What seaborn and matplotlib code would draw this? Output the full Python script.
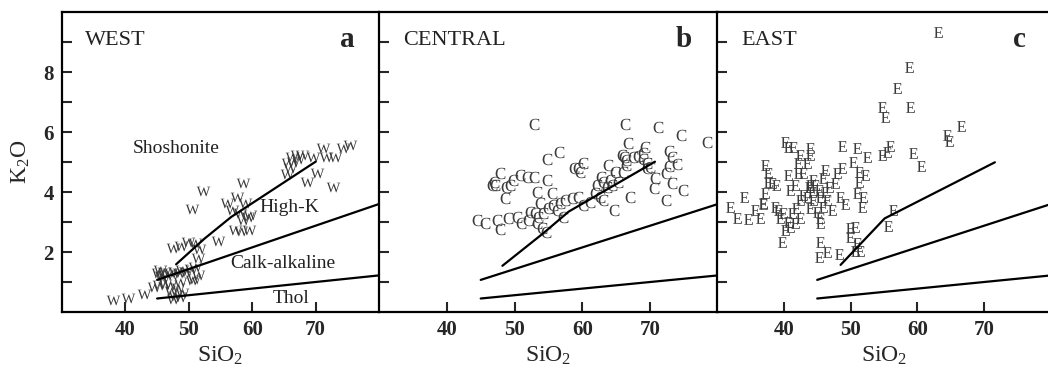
import matplotlib
matplotlib.use("Agg")
import matplotlib.pyplot as plt
import seaborn as sns

# --- data (SiO2 vs K2O, wt%) ---
west_sio2 = [38.0, 40.4, 42.9, 44.5, 45.3, 46.2, 47.0, 47.2, 47.8, 48.3, 48.6, 47.5, 48.9,
             48.6, 50.5, 45.2, 45.6, 46.1, 46.6, 47.2, 47.8, 48.4, 49.0, 49.6, 50.3, 51.0,
             51.5, 50.8, 45.5, 46.0, 51.5, 47.5, 48.8, 49.8, 51.0, 51.6, 54.6, 50.5, 52.3,
             56.0, 57.6, 58.9, 56.8, 58.1, 59.3, 58.5, 59.7, 58.5, 57.3, 58.3, 59.5,
             65.7, 66.2, 67.0, 67.8, 66.0, 66.5, 65.5, 67.2, 69.6, 71.2, 71.7, 73.1, 74.4,
             75.4, 68.6, 70.2, 72.8]
west_k2o = [0.40, 0.47, 0.60, 0.85, 0.90, 0.95, 0.90, 0.70, 0.55, 0.80, 0.50, 0.45, 0.65,
            1.00, 1.07, 1.30, 1.20, 1.35, 1.25, 1.30, 1.35, 1.30, 1.40, 1.35, 1.45, 1.50,
            1.25, 1.10, 1.40, 1.15, 1.80, 2.15, 2.20, 2.35, 2.30, 2.10, 2.37, 3.43, 4.03,
            3.63, 3.83, 3.63, 3.40, 3.30, 3.17, 3.07, 3.23, 4.30, 2.75, 2.70, 2.75,
            4.96, 5.18, 5.23, 5.23, 4.79, 5.00, 4.60, 5.10, 5.18, 5.46, 5.18, 5.18, 5.46,
            5.57, 4.34, 4.62, 4.18]

central_sio2 = [52.9, 66.3, 71.2, 74.6, 78.4, 66.7, 69.2, 69.0, 72.7, 73.2, 73.9, 72.7, 72.3,
                73.2, 74.9, 72.4, 70.7, 70.5, 67.0, 64.6, 65.8, 66.1, 66.5, 67.5, 68.2, 68.9,
                69.5, 70.0, 69.5, 66.5, 63.8, 64.8, 62.8, 64.1, 63.1, 65.3, 66.0, 62.1, 63.6,
                64.3, 62.6, 63.1, 61.9, 61.1, 60.1, 59.4, 58.4, 57.4, 56.7, 56.2, 55.7, 54.9,
                54.2, 53.5, 53.3, 54.0, 54.7, 57.2, 55.5, 53.7, 59.4, 58.7, 59.7, 60.1,
                56.5, 54.8, 54.8, 53.3, 52.8, 51.8, 50.8, 49.8, 49.3, 48.7, 48.6, 47.8, 46.9,
                46.6, 47.1, 44.4, 45.6, 47.4, 47.8, 49.1, 50.3, 50.9, 52.0, 52.3, 53.0]
central_k2o = [6.27, 6.27, 6.18, 5.90, 5.68, 5.64, 5.51, 5.29, 5.38, 5.18, 4.93, 4.88, 4.62,
               4.31, 4.07, 3.73, 4.46, 4.12, 3.84, 3.40, 5.23, 5.18, 5.07, 5.18, 5.20, 5.09,
               4.96, 4.84, 4.79, 4.90, 4.90, 4.68, 4.51, 4.40, 4.34, 4.34, 4.68, 4.23, 4.18,
               4.23, 3.84, 3.73, 3.96, 3.68, 3.57, 3.84, 3.79, 3.73, 3.62, 3.40, 3.57, 3.46,
               3.29, 3.18, 2.96, 2.79, 2.68, 3.18, 3.96, 3.62, 4.79, 4.79, 4.68, 4.96,
               5.34, 5.09, 4.40, 4.01, 4.51, 4.51, 4.57, 4.40, 4.23, 4.18, 3.79, 4.62, 4.34,
               4.23, 4.23, 3.07, 2.98, 3.07, 2.76, 3.12, 3.18, 2.98, 3.07, 3.34, 3.29]

east_sio2 = [63.1, 58.8, 56.9, 54.7, 55.1, 58.9, 66.6, 64.4, 64.8, 59.4, 60.5, 55.9, 55.4,
             54.7, 52.4, 50.9, 50.4, 48.7, 51.2, 52.2, 51.2, 50.9, 51.9, 51.7, 56.4, 55.6,
             49.9, 50.7, 49.9, 50.9, 51.4, 50.7, 45.4, 46.4, 45.2, 48.2, 40.2, 40.7, 41.4,
             42.4, 43.9, 43.9, 42.2, 43.4, 42.9, 44.4, 43.9, 46.2, 45.9, 47.9, 48.7, 47.7,
             48.4, 49.2, 37.2, 37.7, 37.7, 38.2, 37.2, 38.9, 36.9, 40.7, 41.0, 41.7, 42.2,
             43.7, 44.2, 44.7, 45.2, 43.4, 44.4, 45.4, 46.2, 46.4, 43.9, 42.9, 47.2, 45.9,
             44.9, 46.7, 45.4, 42.4, 41.9, 41.2, 42.4, 41.7, 40.7, 40.2, 41.0, 39.7, 39.9,
             39.2, 39.4, 38.7, 34.0, 32.0, 33.0, 34.7, 35.7, 36.4, 36.9, 45.4]
east_k2o = [9.34, 8.16, 7.46, 6.84, 6.51, 6.84, 6.20, 5.90, 5.70, 5.29, 4.88, 5.53, 5.34,
            5.23, 5.16, 5.46, 5.01, 5.53, 4.68, 4.57, 4.34, 3.96, 3.84, 3.51, 3.40, 2.87,
            2.79, 2.84, 2.49, 2.29, 2.04, 2.04, 2.34, 2.01, 1.82, 1.93, 5.68, 5.51, 5.51,
            5.23, 5.46, 5.23, 4.96, 4.96, 4.62, 4.40, 4.23, 4.73, 4.46, 4.62, 4.79, 4.29,
            3.84, 3.60, 4.90, 4.62, 4.34, 4.29, 3.96, 4.23, 3.62, 4.57, 4.07, 4.23, 4.62,
            4.18, 4.01, 4.23, 4.07, 3.84, 3.73, 3.84, 4.01, 3.73, 3.46, 3.90, 3.40, 3.51,
            3.34, 4.18, 3.12, 3.73, 3.46, 3.29, 3.12, 2.96, 3.01, 2.73, 2.84, 2.34, 3.29,
            3.40, 3.12, 3.51, 3.84, 3.51, 3.12, 3.09, 3.40, 3.12, 3.60, 2.96]

# field boundaries (per panel, as drawn)
thol_x = [45, 80]
thol_y = [0.45, 1.22]
calk_x = [45, 80]
calk_y = [1.07, 3.6]
shosh_x = {'a': [48.0, 52.5, 56.7, 70.0], 'b': [48.2, 54.2, 58.0, 70.7], 'c': [48.5, 55.1, 71.6]}
shosh_y = {'a': [1.59, 2.45, 3.17, 5.01], 'b': [1.54, 2.62, 3.35, 5.01], 'c': [1.57, 3.12, 4.99]}

panels = [
    ('a', 'WEST', 'W', west_sio2, west_k2o, 95),
    ('b', 'CENTRAL', 'C', central_sio2, central_k2o, 68),
    ('c', 'EAST', 'E', east_sio2, east_k2o, 60),
]

sns.set_theme(style="ticks")
plt.rcParams['font.family'] = ['Liberation Serif', 'DejaVu Serif']
plt.rcParams['mathtext.fontset'] = 'custom'
plt.rcParams['mathtext.rm'] = 'Liberation Serif'
plt.rcParams['mathtext.it'] = 'Liberation Serif'

fig = plt.figure(figsize=(10.48, 3.72), dpi=100)
W, H = 1048, 372
boxes = [(62, 379), (379, 718), (717, 1051)]
top, bottom = 12, 312

for (letter, region, mark, xs, ys, msize), (x0, x1) in zip(panels, boxes):
    ax = fig.add_axes([x0 / W, (H - bottom) / H, (x1 - x0) / W, (bottom - top) / H])
    sns.scatterplot(x=xs, y=ys, marker='$\\mathrm{%s}$' % mark, s=msize, color='#3a3a3a',
                    linewidth=0, ax=ax)
    ax.plot(thol_x, thol_y, color='black', lw=1.6)
    ax.plot(calk_x, calk_y, color='black', lw=1.6)
    ax.plot(shosh_x[letter], shosh_y[letter], color='black', lw=1.6)

    ax.set_xlim(30, 80)
    ax.set_ylim(0, 10)
    ax.set_xticks([40, 50, 60, 70])
    ax.set_yticks(range(1, 10))
    ax.tick_params(direction='in', length=7, width=1.5, labelsize=15, pad=6)
    for lab in ax.get_xticklabels() + ax.get_yticklabels():
        lab.set_fontweight('bold')
    if letter == 'a':
        ax.set_yticklabels(['' if v % 2 else str(v) for v in range(1, 10)])
        ax.set_ylabel('K$_2$O', fontsize=17, labelpad=8)
    else:
        ax.set_yticklabels([])
    ax.set_xlabel('SiO$_2$', fontsize=17, labelpad=3)

    for side in ['left', 'bottom', 'top']:
        ax.spines[side].set_linewidth(1.6)
        ax.spines[side].set_color('black')
    ax.spines['right'].set_visible(False)

    ax.text(33.6, 9.05, region, fontsize=16, va='center', ha='left', color='#222222')
    ax.text(76.2, 9.1, letter, fontsize=21, fontweight='bold', va='center', ha='right')

    if letter == 'a':
        ax.text(41.2, 5.45, 'Shoshonite', fontsize=14, va='center', color='#222222')
        ax.text(61.2, 3.47, 'High-K', fontsize=14, va='center', color='#222222')
        ax.text(56.6, 1.63, 'Calk-alkaline', fontsize=14, va='center', color='#222222')
        ax.text(63.3, 0.45, 'Thol', fontsize=14, va='center', color='#222222')

fig.savefig('out.png', dpi=100)
